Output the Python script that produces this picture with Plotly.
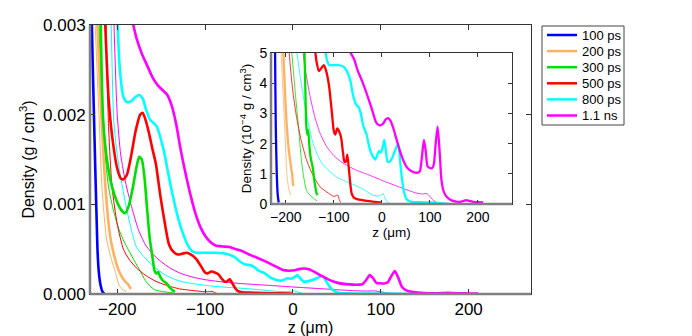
import plotly.graph_objects as go

# densities in units of 10^-3 g/cm^3, z in micrometres
labels = ["100 ps", "200 ps", "300 ps", "500 ps", "800 ps", "1.1 ns"]
colors = ["#0000ff", "#ffb060", "#00e000", "#ff0000", "#00ffff", "#ff00ff"]

# thick curves
z_100 = [-229.5, -228, -226.5, -225, -223.5, -222.5, -221, -219, -217, -215]
rho_100 = [3.3, 2.6, 2.0, 1.4, 0.85, 0.5, 0.25, 0.1, 0.03, 0.005]

z_200 = [-223, -220, -217, -213.5, -208, -204, -199, -194, -189, -187, -185.5, -184]
rho_200 = [3.1, 2.4, 1.8, 1.2, 0.64, 0.45, 0.28, 0.18, 0.12, 0.1, 0.07, 0.06]

z_300 = [-219, -216, -211, -206, -199, -194, -191, -187, -182, -178, -175, -172, -169,
         -166, -163, -160, -157.5, -155.5, -153.5, -151, -148, -144, -140, -136, -134]
rho_300 = [3.1, 1.94, 1.45, 1.2, 1.0, 0.92, 0.9, 0.98, 1.2, 1.42, 1.53, 1.5, 1.3,
           0.95, 0.62, 0.42, 0.26, 0.23, 0.245, 0.19, 0.15, 0.12, 0.07, 0.035, 0.03]

z_500 = [-214, -210, -205, -200, -196, -193, -189, -184, -179, -174, -171, -168, -164,
         -160, -156, -151, -146, -141, -136, -131, -126, -121, -116, -110, -104, -100,
         -97, -93, -89, -85, -81, -78, -75, -72, -69, -66, -63, -59, -50, -40, -30, -15, 0]
rho_500 = [3.1, 2.2, 1.7, 1.4, 1.29, 1.28, 1.33, 1.55, 1.82, 2.0, 2.02, 1.95, 1.8,
           1.62, 1.45, 1.1, 0.8, 0.55, 0.47, 0.44, 0.45, 0.46, 0.44, 0.39, 0.3, 0.24,
           0.23, 0.25, 0.24, 0.22, 0.17, 0.14, 0.14, 0.163, 0.12, 0.07, 0.035, 0.022,
           0.015, 0.013, 0.01, 0.007, 0.005]

z_800 = [-200, -197, -193, -189, -184, -179, -175, -171, -167, -163, -159, -155, -151,
         -147, -143, -139, -135, -130, -125, -120, -115, -110, -100, -90, -80, -73, -66,
         -60, -54, -48, -44, -39, -32, -25, -18, -14, -10, -6, -2, 2, 5, 8, 12, 16, 22,
         28, 34, 38, 42, 46, 52, 60, 80, 100, 120, 140]
rho_800 = [3.1, 2.5, 2.2, 2.14, 2.15, 2.2, 2.22, 2.18, 2.05, 1.95, 1.91, 1.87, 1.75,
           1.6, 1.4, 1.2, 1.02, 0.82, 0.67, 0.55, 0.48, 0.46, 0.46, 0.46, 0.455, 0.44,
           0.41, 0.36, 0.33, 0.32, 0.3, 0.26, 0.23, 0.18, 0.155, 0.147, 0.16, 0.175,
           0.17, 0.19, 0.212, 0.18, 0.14, 0.14, 0.155, 0.18, 0.2, 0.14, 0.08, 0.04,
           0.015, 0.008, 0.006, 0.005, 0.003, 0.0]

z_1100 = [-184, -178, -172, -166, -160, -154, -148, -143, -138, -133, -128, -123, -117,
          -111, -105, -100, -94, -88, -80, -72, -65, -58, -50, -42, -32, -22, -12, -5, 2,
          8, 13, 18, 24, 32, 42, 51, 60, 69, 75, 79, 83, 87.5, 91, 95, 99, 104, 108, 112,
          116, 120, 124, 129, 135, 145, 155, 163, 170, 176, 182, 190, 200, 211]
rho_1100 = [3.1, 2.85, 2.68, 2.55, 2.42, 2.33, 2.27, 2.22, 2.1, 1.9, 1.62, 1.38, 1.12,
            0.9, 0.74, 0.65, 0.58, 0.54, 0.53, 0.525, 0.5, 0.48, 0.44, 0.41, 0.367,
            0.32, 0.27, 0.26, 0.265, 0.28, 0.284, 0.275, 0.25, 0.205, 0.155, 0.124,
            0.11, 0.104, 0.104, 0.108, 0.15, 0.212, 0.18, 0.125, 0.12, 0.118, 0.13, 0.2,
            0.256, 0.18, 0.08, 0.04, 0.024, 0.012, 0.008, 0.007, 0.01, 0.013, 0.01,
            0.007, 0.006, 0.005]

# thin curves
zt_200 = [-225.5, -223, -220.5, -217.5, -212, -207, -202, -198, -194, -190]
rhot_200 = [3.1, 2.5, 1.94, 1.2, 0.6, 0.4, 0.24, 0.1, 0.05, 0.03]

zt_300 = [-221, -217, -210, -204, -198, -192, -186, -180, -174, -168, -163, -157, -150,
          -143, -135]
rhot_300 = [3.1, 1.94, 1.2, 0.92, 0.72, 0.58, 0.47, 0.36, 0.26, 0.15, 0.09, 0.045, 0.03,
            0.02, 0.01]

zt_500 = [-213, -210, -206, -200, -193, -186, -178, -168, -157, -145, -129, -115, -100,
          -95, -92, -89, -86]
rhot_500 = [3.1, 1.9, 1.2, 0.78, 0.5, 0.38, 0.29, 0.21, 0.146, 0.1, 0.057, 0.04, 0.025,
            0.028, 0.03, 0.015, 0.005]

zt_800 = [-207, -204, -200, -196, -190, -183, -178, -170, -162, -155, -145, -135, -125,
          -110, -95, -80, -60, -40, -20, -8, -2, 2, 6, 10, 15, 25]
rhot_800 = [3.1, 1.94, 1.55, 1.3, 0.98, 0.68, 0.52, 0.42, 0.34, 0.28, 0.21, 0.165, 0.135,
            0.11, 0.09, 0.078, 0.065, 0.05, 0.03, 0.026, 0.03, 0.035, 0.022, 0.008,
            0.003, 0.0]

zt_1100 = [-204, -200, -196, -190, -183, -176, -168, -160, -150, -140, -129, -115, -100,
           -85, -70, -50, -30, -10, 10, 30, 50, 70, 85, 93, 100, 107, 115, 125]
rhot_1100 = [3.1, 2.0, 1.55, 1.22, 0.95, 0.72, 0.55, 0.45, 0.36, 0.29, 0.235, 0.19,
             0.16, 0.14, 0.125, 0.11, 0.098, 0.085, 0.072, 0.06, 0.048, 0.037, 0.033,
             0.035, 0.025, 0.012, 0.005, 0.002]

thick = [(z_100, rho_100), (z_200, rho_200), (z_300, rho_300),
         (z_500, rho_500), (z_800, rho_800), (z_1100, rho_1100)]
thin = [None, (zt_200, rhot_200), (zt_300, rhot_300),
        (zt_500, rhot_500), (zt_800, rhot_800), (zt_1100, rhot_1100)]

font = "Liberation Sans, Arial, sans-serif"
# page body has an 8px margin, so the figure is 8px smaller than the window
OFF = 8
W, H = 692 - OFF, 336 - OFF
L, R, T, B = 90 - OFF, 161, 25 - OFF, 42
pw, ph = W - L - R, H - T - B

fig = go.Figure()


def add_curves(xa, ya, scale, w_thin, w_thick):
    for i in range(6):
        if thin[i]:
            z, r = thin[i]
            fig.add_trace(go.Scatter(x=z, y=[v * scale for v in r], mode="lines", xaxis=xa, yaxis=ya,
                                     line=dict(color=colors[i], width=w_thin, shape="spline", smoothing=0.6),
                                     showlegend=False, hoverinfo="skip"))
    for i in range(6):
        z, r = thick[i]
        fig.add_trace(go.Scatter(x=z, y=[v * scale for v in r], mode="lines", xaxis=xa, yaxis=ya,
                                 name=labels[i], showlegend=False,
                                 line=dict(color=colors[i], width=w_thick, shape="spline", smoothing=0.6)))


add_curves("x", "y", 1e-3, 1, 2.6)      # g/cm^3
add_curves("x2", "y2", 10, 0.8, 2.3)    # 10^-4 g/cm^3

ax = dict(showgrid=False, zeroline=False, showline=True, linecolor="#333", linewidth=1,
          mirror="ticks", ticks="inside", ticklen=5, tickcolor="#333", automargin=False,
          tickfont=dict(size=17, color="black"))


# screen pixel -> paper fraction
def px_x(p):
    return (p - OFF - L) / pw


def px_y(p):
    return (H - B - (p - OFF)) / ph


# hand-drawn legend box (MATLAB style, tighter rows than plotly's legend)
shapes = [
    dict(type="line", xref="x domain", yref="y domain", x0=0, x1=0, y0=0, y1=1,
         line=dict(color="#808080", width=2.5)),
    dict(type="line", xref="x domain", yref="y domain", x0=0, x1=1, y0=0, y1=0,
         line=dict(color="#808080", width=2.5)),
    dict(type="line", xref="x2 domain", yref="y2 domain", x0=0, x1=0, y0=0, y1=1,
         line=dict(color="#808080", width=2.5)),
    dict(type="line", xref="x2 domain", yref="y2 domain", x0=0, x1=1, y0=0, y1=0,
         line=dict(color="#808080", width=2.5)),
    dict(type="rect", xref="paper", yref="paper", x0=px_x(542), x1=px_x(624),
         y0=px_y(125), y1=px_y(26), line=dict(color="#444", width=1), fillcolor="white"),
]
annotations = []
for i, lab in enumerate(labels):
    yy = px_y(35 + 16.1 * i)
    shapes.append(dict(type="line", xref="paper", yref="paper", x0=px_x(547), x1=px_x(577),
                       y0=yy, y1=yy, line=dict(color=colors[i], width=2.5)))
    annotations.append(dict(text=lab, xref="paper", yref="paper", x=px_x(580), y=yy,
                            xanchor="left", yanchor="middle", showarrow=False,
                            font=dict(size=13, color="black")))

fig.update_layout(
    width=W, height=H,
    margin=dict(l=L, r=R, t=T, b=B),
    paper_bgcolor="white", plot_bgcolor="white",
    font=dict(family=font, color="black"),
    showlegend=False,
    xaxis=dict(ax, range=[-231, 271], dtick=100, tick0=0,
               title=dict(text="z (μm)", font=dict(size=16), standoff=0)),
    yaxis=dict(ax, range=[0, 0.003], dtick=0.001, tickformat=".3f",
               title=dict(text="Density (g / cm<sup>3</sup>)", font=dict(size=16), standoff=4)),
    xaxis2=dict(ax, domain=[px_x(271), px_x(512)], anchor="y2", range=[-231, 271], dtick=100, tick0=0,
                tickfont=dict(size=14, color="black"), ticklen=4,
                title=dict(text="z (μm)", font=dict(size=13.5), standoff=0)),
    yaxis2=dict(ax, domain=[px_y(204), px_y(53)], anchor="x2", range=[0, 5], dtick=1,
                tickfont=dict(size=14, color="black"), ticklen=4,
                title=dict(text="Density (10<sup>−4</sup> g / cm<sup>3</sup>)", font=dict(size=13.5),
                           standoff=4)),
    shapes=shapes,
    annotations=annotations,
)

fig.write_html("out.html")
